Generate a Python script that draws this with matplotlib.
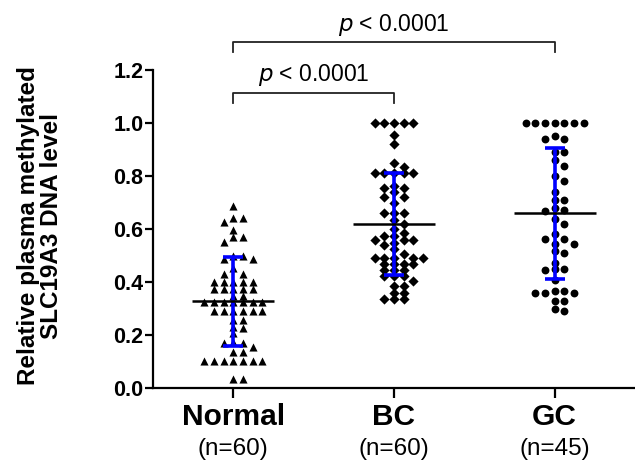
import matplotlib
matplotlib.use("Agg")
import matplotlib.pyplot as plt
import numpy as np

plt.rcParams['font.family'] = ['Liberation Sans', 'DejaVu Sans']

groups = ["Normal", "BC", "GC"]
n_labels = ["(n=60)", "(n=60)", "(n=45)"]
markers = ["^", "D", "o"]

normal = [0.686,
          0.642, 0.642, 0.627,
          0.598,
          0.569, 0.569,
          0.551,
          0.498, 0.498, 0.485, 0.485,
          0.451,
          0.431, 0.431,
          0.401, 0.401, 0.401, 0.401, 0.401,
          0.372, 0.372, 0.372, 0.372, 0.372,
          0.347, 0.347,
          0.325, 0.325, 0.325, 0.325, 0.325, 0.325, 0.325,
          0.291, 0.291, 0.291, 0.291, 0.291, 0.291,
          0.257, 0.257,
          0.232, 0.227, 0.209,
          0.174,
          0.169, 0.169,
          0.153,
          0.134, 0.134,
          0.103, 0.103, 0.103, 0.103, 0.103, 0.103, 0.103,
          0.034, 0.034]

bc = [1.0, 1.0, 1.0, 1.0, 1.0,
      0.955, 0.92, 0.85,
      0.811, 0.811, 0.811, 0.811, 0.811,
      0.833,
      0.764, 0.755, 0.755, 0.74, 0.72, 0.72, 0.70,
      0.661, 0.661, 0.661, 0.633, 0.62, 0.60,
      0.585, 0.573, 0.573, 0.56, 0.56, 0.56, 0.548, 0.54, 0.526,
      0.507,
      0.492, 0.492, 0.492, 0.492, 0.492,
      0.467, 0.467, 0.467, 0.467,
      0.444, 0.444, 0.444,
      0.423, 0.423, 0.423,
      0.404,
      0.385, 0.385,
      0.36, 0.36,
      0.335, 0.335, 0.335]

gc = [1.0, 1.0, 1.0, 1.0, 1.0, 1.0, 1.0,
      0.952, 0.939, 0.939,
      0.889, 0.889,
      0.859, 0.839, 0.799, 0.781,
      0.74,
      0.711, 0.711,
      0.68, 0.672, 0.667,
      0.638, 0.62,
      0.58,
      0.561, 0.561,
      0.542, 0.542,
      0.517, 0.508,
      0.47,
      0.448, 0.448, 0.444,
      0.407,
      0.366, 0.366, 0.36, 0.36, 0.36,
      0.328, 0.328,
      0.30, 0.29]

means = [0.327, 0.618, 0.659]
sds = [0.168, 0.193, 0.246]

p_texts = ["p < 0.0001", "p < 0.0001"]

data = [normal, bc, gc]


def swarm_offsets(vals, slot=0.06, ydist=0.021):
    order = np.argsort(-np.asarray(vals), kind="stable")
    placed = {}
    offs = np.zeros(len(vals))
    cands = [0]
    for j in range(1, 20):
        cands += [j, -j]
    for i in order:
        v = vals[i]
        for c in cands:
            ys = placed.get(c, [])
            if all(abs(v - y) >= ydist for y in ys):
                placed.setdefault(c, []).append(v)
                offs[i] = c * slot
                break
    return offs


fig = plt.figure(figsize=(6.35, 4.69), dpi=100)
ax = fig.add_axes([153 / 635, 81 / 469, 482 / 635, 318 / 469])

sizes = [34, 27, 32]
for gi, (vals, m) in enumerate(zip(data, markers)):
    offs = swarm_offsets(vals)
    ax.scatter(gi + offs, vals, marker=m, s=sizes[gi], color="black",
               linewidths=0, zorder=2)
    ax.errorbar([gi], [means[gi]], yerr=[sds[gi]], fmt="none",
                ecolor="#0000ff", elinewidth=2.6, capsize=7.5,
                capthick=2.6, zorder=3)
    ax.plot([gi - 0.255, gi + 0.255], [means[gi], means[gi]],
            color="black", lw=1.8, zorder=4, solid_capstyle="butt")

ax.set_xlim(-0.5, 2.5)
ax.set_ylim(0, 1.2)
yt = np.arange(0, 1.21, 0.2)
ax.set_yticks(yt)
ax.set_yticklabels([f"{t:.1f}" for t in yt], fontsize=15.5, fontweight="bold")
ax.set_xticks(range(3))
ax.set_xticklabels(groups, fontsize=21.5, fontweight="bold")
ax.tick_params(axis="y", length=6, width=1.6, pad=1)
ax.tick_params(axis="x", length=7, width=1.6, pad=4)
for s in ["top", "right"]:
    ax.spines[s].set_visible(False)
for s in ["left", "bottom"]:
    ax.spines[s].set_linewidth(1.6)

for gi, lab in enumerate(n_labels):
    ax.text(gi, -0.23, lab, ha="center", va="center", fontsize=17.5,
            clip_on=False)

ax.set_ylabel("Relative plasma methylated\nSLC19A3 DNA level",
              fontsize=17.5, fontweight="bold", linespacing=1.0)
ax.yaxis.set_label_coords((63 - 153) / 482, 0.51)


def bracket(x0, x1, y, h, txt, ty):
    ax.plot([x0, x0, x1, x1], [y - h, y, y, y - h], color="#222222",
            lw=1.3, clip_on=False, zorder=5)
    ax.text((x0 + x1) / 2, ty, txt.replace("p", "$\\it{p}$", 1),
            ha="center", va="center", fontsize=16.5, clip_on=False)


bracket(0, 1, 1.114, 0.037, p_texts[0], 1.18)
bracket(0, 2, 1.305, 0.037, p_texts[1], 1.37)

fig.savefig("out.png", dpi=100)
